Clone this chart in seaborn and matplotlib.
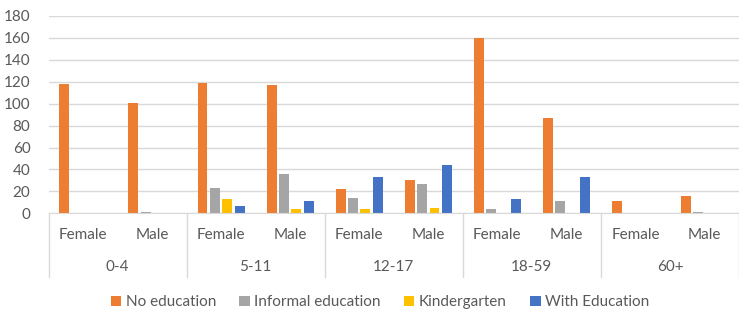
import numpy as np
import pandas as pd
import matplotlib
matplotlib.use("Agg")
import matplotlib.pyplot as plt
import seaborn as sns

ages = ["0-4", "5-11", "12-17", "18-59", "60+"]
genders = ["Female", "Male"]
series = ["No education", "Informal education", "Kindergarten", "With Education"]
colors = ["#ED7D31", "#A5A5A5", "#FFC000", "#4472C4"]

# one value per age/gender slot, in order 0-4 F, 0-4 M, 5-11 F, ...
no_education = [118, 101, 119, 117, 22, 30, 160, 87, 11, 16]
informal_education = [0, 1, 23, 36, 14, 27, 4, 11, 0, 1]
kindergarten = [0, 0, 13, 4, 4, 5, 0, 0, 0, 0]
with_education = [0, 0, 7, 11, 33, 44, 13, 33, 0, 0]

slots = [f"{a} {g}" for a in ages for g in genders]
rows = []
for name, vals in zip(series, [no_education, informal_education, kindergarten, with_education]):
    for slot, v in zip(slots, vals):
        rows.append({"slot": slot, "series": name, "value": v})
df = pd.DataFrame(rows)

sns.set_style("white")
plt.rcParams["font.family"] = ["Lato", "DejaVu Sans"]
text_color = "#595959"
grid_color = "#D9D9D9"
fs = 11

fig = plt.figure(figsize=(7.39, 3.13), dpi=100)
ax = fig.add_axes([48.5 / 739, 1 - 213.3 / 313, (739 - 48.5) / 739, (213.3 - 16) / 313])

sns.barplot(data=df, x="slot", y="value", hue="series", order=slots, hue_order=series,
            palette=colors, width=0.72, gap=0.2, linewidth=0, saturation=1, ax=ax)

ax.set_ylim(0, 180)
ax.set_yticks(np.arange(0, 181, 20))
ax.set_xlim(-0.5, len(slots) - 0.5)
ax.yaxis.grid(True, color=grid_color, linewidth=1)
ax.set_axisbelow(True)
for s in ["top", "right", "left"]:
    ax.spines[s].set_visible(False)
ax.spines["bottom"].set_color(grid_color)
ax.tick_params(axis="y", length=0, pad=13, labelsize=fs, labelcolor=text_color)
ax.tick_params(axis="x", length=0, labelbottom=False)
ax.set_xlabel("")
ax.set_ylabel("")

trans = ax.get_xaxis_transform()
for i, slot in enumerate(slots):
    ax.text(i, -0.11, genders[i % 2], transform=trans, ha="center", va="center",
            fontsize=fs, color=text_color)
for j, age in enumerate(ages):
    ax.text(2 * j + 0.5, -0.27, age, transform=trans, ha="center", va="center",
            fontsize=fs, color=text_color)
for j in range(len(ages) + 1):
    ax.plot([2 * j - 0.5, 2 * j - 0.5], [0, -0.323], transform=trans, color=grid_color,
            linewidth=1, clip_on=False)

handles, labels = ax.get_legend_handles_labels()
ax.legend(handles, labels, loc="center", bbox_to_anchor=(0.48, -0.452), ncol=4,
          frameon=False, fontsize=fs, handlelength=0.7, handleheight=0.7,
          handletextpad=0.3, columnspacing=1.5, labelcolor=text_color)

fig.savefig("out.png", dpi=100)
